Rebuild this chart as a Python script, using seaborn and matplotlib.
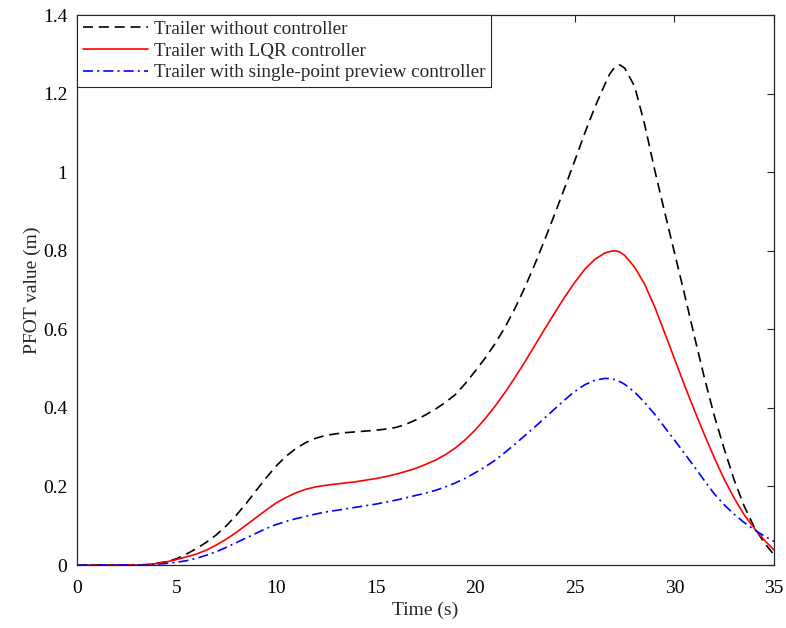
import numpy as np
import pandas as pd
import matplotlib
matplotlib.use("Agg")
import matplotlib.pyplot as plt
import seaborn as sns

time_s = [0, 1, 2, 3, 3.5, 4, 4.5, 5, 5.5, 6, 6.5, 7, 7.5, 8, 8.5, 9, 9.5, 10,
          10.5, 11, 11.5, 12, 12.5, 13, 13.5, 14, 14.5, 15, 15.5, 16, 16.5, 17,
          17.5, 18, 18.5, 19, 19.5, 20, 20.5, 21, 21.5, 22, 22.5, 23, 23.5, 24,
          24.5, 25, 25.5, 26, 26.5, 26.75, 27, 27.25, 27.5, 28, 28.5, 29, 29.5,
          30, 30.5, 31, 31.5, 32, 32.5, 33, 33.5, 34, 34.5, 35]

no_controller = [0, 0, 0, 0, 0.001, 0.004, 0.009, 0.016, 0.028, 0.042, 0.058, 0.077,
                 0.100, 0.127, 0.157, 0.190, 0.222, 0.252, 0.277, 0.297, 0.312, 0.323,
                 0.330, 0.334, 0.337, 0.339, 0.341, 0.343, 0.346, 0.350, 0.358, 0.369,
                 0.382, 0.397, 0.414, 0.434, 0.462, 0.494, 0.527, 0.564, 0.606, 0.654,
                 0.708, 0.767, 0.830, 0.895, 0.962, 1.030, 1.100, 1.165, 1.223, 1.250,
                 1.267, 1.273, 1.265, 1.218, 1.122, 1.007, 0.900, 0.795, 0.690, 0.582,
                 0.477, 0.380, 0.295, 0.216, 0.150, 0.097, 0.057, 0.026]

lqr_controller = [0, 0, 0, 0, 0.001, 0.004, 0.008, 0.014, 0.021, 0.028, 0.038, 0.051,
                  0.066, 0.083, 0.102, 0.121, 0.140, 0.158, 0.172, 0.184, 0.193, 0.199,
                  0.203, 0.206, 0.209, 0.212, 0.216, 0.220, 0.225, 0.231, 0.238, 0.246,
                  0.256, 0.267, 0.281, 0.298, 0.319, 0.344, 0.373, 0.405, 0.440, 0.478,
                  0.518, 0.560, 0.602, 0.643, 0.683, 0.720, 0.753, 0.778, 0.794, 0.798,
                  0.800, 0.797, 0.788, 0.758, 0.715, 0.658, 0.592, 0.525, 0.458, 0.394,
                  0.332, 0.273, 0.218, 0.170, 0.128, 0.094, 0.064, 0.038]

preview_controller = [0, 0, 0, 0, 0.0, 0.002, 0.004, 0.007, 0.011, 0.017, 0.025, 0.034,
                      0.045, 0.057, 0.069, 0.081, 0.093, 0.103, 0.111, 0.118, 0.124, 0.130,
                      0.135, 0.139, 0.143, 0.147, 0.151, 0.155, 0.160, 0.165, 0.171, 0.177,
                      0.183, 0.190, 0.199, 0.209, 0.221, 0.235, 0.250, 0.267, 0.287, 0.308,
                      0.330, 0.352, 0.375, 0.398, 0.421, 0.442, 0.459, 0.470, 0.475, 0.4745,
                      0.472, 0.467, 0.460, 0.440, 0.414, 0.384, 0.351, 0.318, 0.284, 0.250,
                      0.215, 0.181, 0.153, 0.129, 0.108, 0.090, 0.074, 0.060]

labels = ["Trailer without controller",
          "Trailer with LQR controller",
          "Trailer with single-point preview controller"]

sns.set_style("white")
plt.rcParams["font.family"] = ["Liberation Serif", "DejaVu Serif"]

fig = plt.figure(figsize=(7.86, 6.28), dpi=100)
ax = fig.add_axes([0.098, 0.1003, 0.8868, 0.8758])

series = [(no_controller, "black", (0, (6, 3.5))),
          (lqr_controller, "#ff0000", "-"),
          (preview_controller, "#0000ff", (0, (6, 2.5, 1.2, 2.5)))]
for (vals, col, ls), lab in zip(series, labels):
    df = pd.DataFrame({"t": time_s, "v": vals})
    sns.lineplot(data=df, x="t", y="v", ax=ax, color=col, linestyle=ls,
                 linewidth=1.2, label=lab)

ax.set_xlim(0, 35)
ax.set_ylim(0, 1.4)
ax.set_xticks(np.arange(0, 36, 5))
ax.set_yticks([0, 0.2, 0.4, 0.6, 0.8, 1.0, 1.2, 1.4])
ax.set_yticklabels(["0", "0.2", "0.4", "0.6", "0.8", "1", "1.2", "1.4"])
ax.set_xlabel("Time (s)", fontsize=14, labelpad=3)
ax.set_ylabel("PFOT value (m)", fontsize=14)
ax.tick_params(direction="in", length=5, width=0.8, labelsize=14,
               top=True, right=True, colors="#262626", labelcolor="black")
ax.tick_params(axis="x", pad=11)
ax.tick_params(axis="y", pad=7)
for sp in ax.spines.values():
    sp.set_color("#262626")
    sp.set_linewidth(0.9)

leg = ax.legend(loc="upper left", fontsize=13.8, frameon=True, fancybox=False,
                borderaxespad=0.0, handlelength=3.4, handletextpad=0.3,
                borderpad=0.3, labelspacing=0.22, edgecolor="#262626",
                framealpha=1.0)
leg.get_frame().set_linewidth(0.8)

ax.yaxis.set_label_coords(-0.052, 0.5)

fig.savefig("out.png", dpi=100)
